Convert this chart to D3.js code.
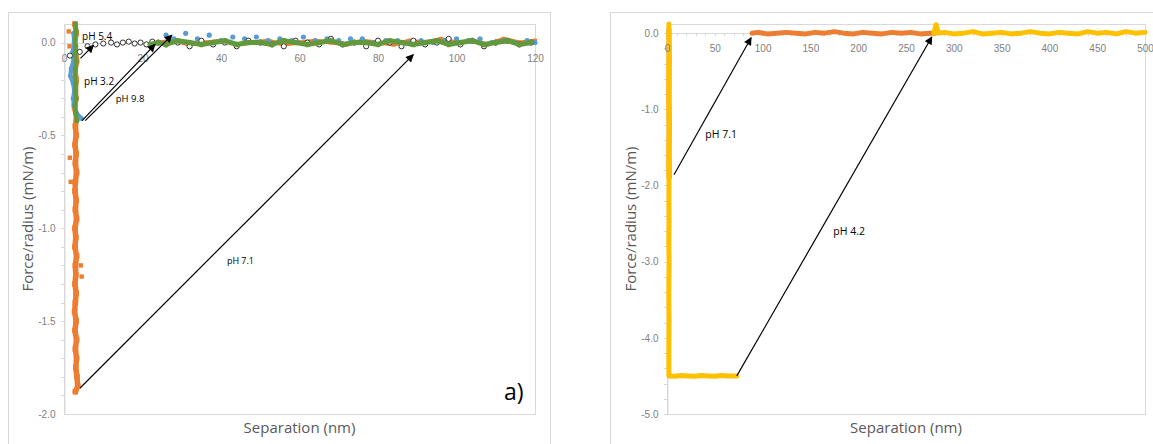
<!DOCTYPE html>
<html>
<head>
<meta charset="utf-8">
<script src="https://cdn.jsdelivr.net/npm/d3@7"></script>
<style>
  body { margin: 0; background: #fff; }
  svg { display: block; font-family: "Open Sans", sans-serif; }
  .tick text { fill: #808080; font-size: 10px; }
  .axTitle { fill: #595959; font-size: 15px; }
  .note { fill: #000; }
</style>
</head>
<body>
<div id="chart"></div>
<script>
// page size
var svgWidth = 1153;
var svgHeight = 444;

// ---- panel a) data : [separation nm, force/radius mN/m] ----
var xTicksA = [0, 20, 40, 60, 80, 100, 120];
var yTicksA = [0, -0.5, -1.0, -1.5, -2.0];

// pH 7.1 (orange)
var ph71A_pull = [[2.8,0.10],[3.1,0.05],[2.7,0.00],[3.0,-0.05],[3.2,-0.10],[2.8,-0.15],[3.1,-0.20],[2.9,-0.25],
  [3.0,-0.30],[2.7,-0.35],[3.2,-0.40],[2.9,-0.45],[3.1,-0.50],[2.8,-0.55],[3.1,-0.60],[2.9,-0.65],[3.2,-0.70],
  [2.9,-0.75],[2.8,-0.80],[3.1,-0.85],[2.9,-0.90],[3.2,-0.95],[2.8,-1.00],[3.0,-1.05],[2.8,-1.10],[3.2,-1.15],
  [2.9,-1.20],[3.0,-1.25],[2.8,-1.30],[3.1,-1.35],[2.9,-1.40],[2.7,-1.45],[3.1,-1.50],[2.8,-1.55],[3.2,-1.60],
  [2.9,-1.65],[3.2,-1.70],[3.0,-1.75],[3.3,-1.80],[3.5,-1.85],[2.9,-1.88]];
var ph71A_stray = [[4.5,-1.26],[4.3,-1.20],[1.5,-0.62],[1.7,-0.75],[1.2,0.06],[1.4,-0.02]];
var ph71A_base = [[24,0.00],[28,0.01],[32,-0.01],[36,0.00],[40,0.01],[44,-0.01],[48,0.00],[52,0.01],[56,-0.01],
  [60,0.00],[64,0.01],[68,0.00],[72,-0.01],[76,0.01],[80,0.00],[84,-0.01],[88,0.01],[92,0.00],[96,0.02],
  [100,0.00],[104,0.01],[108,-0.01],[112,0.02],[116,0.00],[120,0.01]];

// pH 3.2 (blue)
var ph32A_pull = [[2.4,0.05],[2.6,0.00],[2.2,-0.05],[2.4,-0.10],[1.8,-0.14],[1.6,-0.18],[2.3,-0.22],[2.6,-0.26],
  [2.3,-0.30],[2.5,-0.34],[3.2,-0.38],[4.5,-0.41]];
var ph32A_base = [[26,0.04],[28,0.02],[31,0.05],[34,0.02],[37,0.04],[40,0.01],[43,0.03],[46,0.02],[49,0.03],
  [52,0.01],[55,0.02],[58,0.01],[61,0.03],[64,0.01],[67,0.02],[70,0.01],[73,0.02],[76,0.02],[79,0.00],[82,0.01],
  [85,0.01],[88,0.00],[91,0.01],[94,0.00],[97,0.01],[100,0.02],[103,0.01],[106,0.02],[109,0.00],[112,0.01],
  [115,0.00],[118,0.01],[120,0.00]];

// pH 9.8 (green)
var ph98A_pull = [[2.9,0.10],[3.1,0.06],[2.8,0.02],[3.0,-0.02],[2.8,-0.06],[3.1,-0.10],[2.9,-0.14],[2.8,-0.18],
  [3.0,-0.22],[2.9,-0.26],[3.1,-0.30],[2.8,-0.34],[3.0,-0.38],[3.3,-0.42]];
var ph98A_base = [[22,-0.01],[24,0.00],[26,-0.01],[29,0.01],[32,0.00],[35,-0.01],[38,0.00],[41,0.01],[44,-0.01],
  [47,0.00],[50,0.00],[53,-0.01],[56,0.01],[59,0.00],[62,-0.01],[65,0.00],[68,0.01],[71,-0.01],[74,0.00],
  [77,0.00],[80,-0.01],[83,0.01],[86,0.00],[89,-0.01],[92,0.00],[95,0.01],[98,-0.01],[101,0.00],[104,0.01],
  [107,-0.01],[110,0.00],[113,0.01],[116,-0.01],[119,0.00]];

// pH 5.4 (black open circles)
var ph54A = [[1.5,-0.07],[4.0,-0.05],[6.0,-0.02],[8.0,-0.01],[10,-0.005],[12,0.00],[13.5,-0.01],[15,0.00],
  [16.5,0.005],[18,-0.005],[19.5,0.00],[21,-0.01],[22.5,0.005],[24,0.00],[26,-0.01],[29,0.00],[32,-0.02],
  [35,0.01],[38,-0.01],[41,0.00],[44,-0.02],[47,0.01],[50,0.00],[53,-0.01],[56,-0.02],[59,0.01],[62,0.00],
  [65,-0.01],[68,0.02],[71,-0.01],[74,0.00],[77,-0.02],[80,0.01],[83,0.00],[86,-0.02],[89,0.01],[92,-0.01],
  [95,0.00],[98,0.02],[101,-0.01],[104,0.01],[107,-0.02],[110,0.00],[113,0.01],[116,-0.01],[119,0.00]];

// arrows and labels of panel a)
var arrowsA = [
  { from: [4.2, -0.085], to: [7.5, -0.015] },
  { from: [4.6, -0.42], to: [23.2, -0.01] },
  { from: [5.4, -0.42], to: [27.5, 0.04] },
  { from: [4.1, -1.86], to: [89, -0.065] }
];
var notesA = [
  { text: "pH 5.4", at: [4.6, 0.016], size: 10 },
  { text: "pH 3.2", at: [5.1, -0.23], size: 10 },
  { text: "pH 9.8", at: [13.2, -0.32], size: 9.5 },
  { text: "pH 7.1", at: [41.5, -1.19], size: 9 }
];

// ---- panel b) data ----
var xTicksB = [0, 50, 100, 150, 200, 250, 300, 350, 400, 450, 500];
var yTicksB = [0, -1.0, -2.0, -3.0, -4.0, -5.0];

// pH 7.1 (orange)
var ph71B_pull = [[2.0,0.05],[2.2,-0.40],[2.0,-0.80],[2.3,-1.20],[2.1,-1.60],[2.3,-1.90]];
var ph71B_base = [[89,0.00],[95,0.01],[105,-0.01],[115,0.00],[125,0.01],[135,0.00],[145,-0.01],[155,0.01],
  [165,0.00],[175,0.02],[185,0.00],[195,-0.01],[205,0.01],[215,0.00],[225,-0.01],[235,0.01],[245,0.00],
  [255,0.01],[265,-0.01],[275,0.00],[280,0.00]];

// pH 4.2 (yellow)
var ph42B_pull = [[2.0,0.12],[2.0,0.00],[2.2,-0.25],[1.9,-0.50],[2.1,-0.75],[1.9,-1.00],[2.2,-1.25],[2.0,-1.50],
  [1.9,-1.75],[2.1,-2.00],[2.0,-2.25],[2.1,-2.50],[1.9,-2.75],[2.2,-3.00],[2.0,-3.25],[1.9,-3.50],[2.1,-3.75],
  [2.0,-4.00],[1.9,-4.25],[2.0,-4.50],[8,-4.505],[15,-4.495],[22,-4.50],[29,-4.505],[36,-4.495],[43,-4.50],
  [50,-4.505],[57,-4.495],[64,-4.50],[71,-4.50],[73,-4.50]];
var ph42B_base = [[279,0.00],[281.5,0.11],[284,0.00],[290,0.01],[300,-0.01],[310,0.00],[320,0.02],[330,-0.01],
  [340,0.00],[350,0.01],[360,-0.01],[370,0.00],[380,0.02],[390,0.00],[400,-0.01],[410,0.01],[420,0.00],
  [430,-0.01],[440,0.02],[450,0.00],[460,0.01],[470,-0.01],[480,0.02],[490,0.00],[500,0.01]];

var arrowsB = [
  { from: [7.3, -1.86], to: [88, -0.06] },
  { from: [73, -4.5], to: [277, -0.05] }
];
var notesB = [
  { text: "pH 7.1", at: [40, -1.38], size: 10.5 },
  { text: "pH 4.2", at: [174, -2.65], size: 10.5 }
];

var orange = "#ED7D31", blue = "#5B9BD5", green = "#63993D", yellow = "#FFC000";

var svg = d3.select("#chart").append("svg")
  .attr("width", svgWidth)
  .attr("height", svgHeight);

// arrow head
svg.append("defs").append("marker")
  .attr("id", "head")
  .attr("viewBox", "0 0 10 10")
  .attr("refX", 9)
  .attr("refY", 5)
  .attr("markerUnits", "userSpaceOnUse")
  .attr("markerWidth", 9)
  .attr("markerHeight", 8)
  .attr("orient", "auto")
  .append("path")
  .attr("d", "M0,0 L10,5 L0,10 z")
  .attr("fill", "#000");

// chart frames
svg.append("rect").attr("x", 8.5).attr("y", 12.5).attr("width", 542).attr("height", 450)
  .attr("fill", "none").attr("stroke", "#d9d9d9");
svg.append("rect").attr("x", 610.5).attr("y", 12.5).attr("width", 600).attr("height", 450)
  .attr("fill", "none").attr("stroke", "#d9d9d9");

// draws one panel: box, axes, titles
function makePanel(box, xDomain, yDomain, xTicks, yTicks, yMinor, xMinor) {
  var x = d3.scaleLinear().domain(xDomain).range([box.left, box.right]);
  var y = d3.scaleLinear().domain(yDomain).range([box.bottom, box.top]);
  var g = svg.append("g");

  // plot area border
  g.append("rect")
    .attr("x", box.left + 0.5).attr("y", box.top + 0.5)
    .attr("width", box.right - box.left).attr("height", box.bottom - box.top)
    .attr("fill", "none").attr("stroke", "#d9d9d9");

  // minor ticks on the y axis
  g.selectAll(".ymin").data(yMinor).enter().append("line")
    .attr("x1", x(0) - 3).attr("x2", x(0))
    .attr("y1", d => Math.round(y(d)) + 0.5).attr("y2", d => Math.round(y(d)) + 0.5)
    .attr("stroke", "#d9d9d9");

  // minor ticks on the x axis
  g.selectAll(".xmin").data(xMinor).enter().append("line")
    .attr("x1", d => Math.round(x(d)) + 0.5).attr("x2", d => Math.round(x(d)) + 0.5)
    .attr("y1", y(0)).attr("y2", y(0) + 3)
    .attr("stroke", "#d9d9d9");

  // x axis line (under the marks)
  var y0 = Math.round(y(0)) + 0.5;
  g.append("line")
    .attr("x1", box.left).attr("x2", box.right)
    .attr("y1", y0).attr("y2", y0)
    .attr("stroke", "#d9d9d9");

  var yAxis = g.append("g")
    .attr("transform", `translate(${Math.round(x(0)) + 0.5}, 0)`)
    .call(d3.axisLeft(y).tickValues(yTicks).tickSize(0).tickPadding(9).tickFormat(d => d.toFixed(1)));
  yAxis.select(".domain").attr("stroke", "#d9d9d9");

  // axis titles
  g.append("text").classed("axTitle", true)
    .attr("x", (box.left + box.right) / 2).attr("y", 433)
    .attr("text-anchor", "middle")
    .text("Separation (nm)");
  g.append("text").classed("axTitle", true)
    .attr("transform", `translate(${box.left - 31}, ${(box.top + box.bottom) / 2}) rotate(-90)`)
    .attr("text-anchor", "middle")
    .text("Force/radius (mN/m)");

  // series layer
  var marks = g.append("g");

  // x tick labels on top of the marks
  var xAxis = g.append("g")
    .attr("transform", `translate(0, ${y0})`)
    .call(d3.axisBottom(x).tickValues(xTicks).tickSize(0).tickPadding(11).tickFormat(d => d));
  xAxis.select(".domain").remove();

  return { x: x, y: y, g: marks, root: g };
}

// one series: optional thick path, then markers
function drawSeries(p, pts, opt) {
  if (opt.line) {
    p.g.append("path").datum(pts)
      .attr("d", d3.line().x(d => p.x(d[0])).y(d => p.y(d[1])))
      .attr("fill", "none")
      .attr("stroke", opt.color)
      .attr("stroke-width", opt.line)
      .attr("stroke-linejoin", "round")
      .attr("stroke-linecap", "round");
  }
  if (opt.shape === "square") {
    p.g.selectAll(null).data(pts).enter().append("rect")
      .attr("x", d => p.x(d[0]) - opt.r).attr("y", d => p.y(d[1]) - opt.r)
      .attr("width", opt.r * 2).attr("height", opt.r * 2)
      .attr("fill", opt.color);
  } else if (opt.shape === "ring") {
    p.g.selectAll(null).data(pts).enter().append("circle")
      .attr("cx", d => p.x(d[0])).attr("cy", d => p.y(d[1])).attr("r", opt.r)
      .attr("fill", "#fff").attr("stroke", opt.color).attr("stroke-width", 0.9);
  } else if (opt.shape === "circle") {
    p.g.selectAll(null).data(pts).enter().append("circle")
      .attr("cx", d => p.x(d[0])).attr("cy", d => p.y(d[1])).attr("r", opt.r)
      .attr("fill", opt.color);
  }
}

function drawArrows(p, arrows, notes) {
  p.root.selectAll(null).data(arrows).enter().append("line")
    .attr("x1", d => p.x(d.from[0])).attr("y1", d => p.y(d.from[1]))
    .attr("x2", d => p.x(d.to[0])).attr("y2", d => p.y(d.to[1]))
    .attr("stroke", "#000").attr("stroke-width", 1.2)
    .attr("marker-end", "url(#head)");
  p.root.selectAll(null).data(notes).enter().append("text")
    .classed("note", true)
    .attr("x", d => p.x(d.at[0])).attr("y", d => p.y(d.at[1]))
    .attr("font-size", d => d.size + "px")
    .text(d => d.text);
}

// ---- panel a) ----
var pA = makePanel({ left: 64, right: 535, top: 24, bottom: 414 }, [0, 120], [-2, 0.1],
  xTicksA, yTicksA, d3.range(-19, 1).map(d => d / 10), []);

drawSeries(pA, ph71A_base, { color: orange, line: 4, shape: "square", r: 2 });
drawSeries(pA, ph71A_pull, { color: orange, line: 5.5, shape: "square", r: 2.8 });
drawSeries(pA, ph71A_stray, { color: orange, shape: "square", r: 2.2 });
drawSeries(pA, ph32A_pull, { color: blue, line: 4, shape: "circle", r: 2.4 });
drawSeries(pA, ph32A_base, { color: blue, shape: "circle", r: 2.6 });
drawSeries(pA, ph54A, { color: "#1a1a1a", shape: "ring", r: 2.6 });
drawSeries(pA, ph98A_pull, { color: green, line: 4, shape: "circle", r: 2.6 });
drawSeries(pA, ph98A_base, { color: green, line: 5, shape: "circle", r: 2.8 });
drawArrows(pA, arrowsA, notesA);

svg.append("text")
  .attr("x", 504).attr("y", 400)
  .attr("font-size", "23px")
  .attr("fill", "#000")
  .text("a)");

// ---- panel b) ----
var pB = makePanel({ left: 667, right: 1145, top: 24, bottom: 414 }, [0, 500], [-5, 0.12],
  xTicksB, yTicksB, d3.range(-25, 1).map(d => d / 5), d3.range(10, 500, 10));

drawSeries(pB, ph71B_pull, { color: orange, line: 5 });
drawSeries(pB, ph71B_base, { color: orange, line: 5 });
drawSeries(pB, ph42B_pull, { color: yellow, line: 5 });
drawSeries(pB, ph42B_base, { color: yellow, line: 5 });
drawArrows(pB, arrowsB, notesB);
</script>
</body>
</html>
